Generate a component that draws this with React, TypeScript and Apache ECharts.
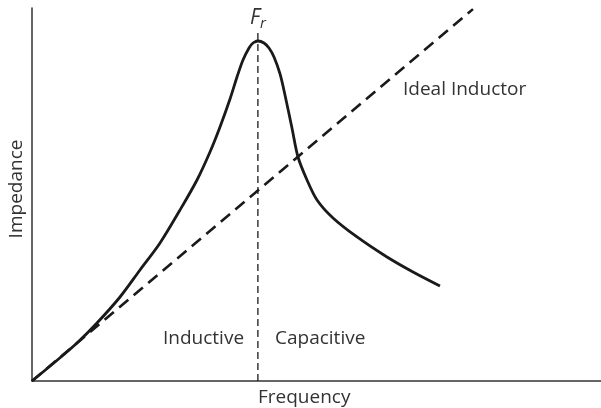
import React, { useEffect, useRef } from "react";
import * as echarts from "echarts";

// Frequency (x) and impedance (y) on a 0–100 relative scale
const curveX = [0, 4.04, 7.91, 11.42, 15.47, 18.98, 22.5, 26.01, 29.0, 31.28, 33.04, 34.8, 36.03, 37.08, 38.14, 38.84, 39.72, 40.77, 41.65, 42.53, 43.59, 44.46, 45.69, 46.75, 48.33, 50.09, 52.9, 57.12, 62.39, 66.96, 71.7];
const curveY = [0, 5.09, 10.19, 15.55, 22.52, 29.76, 37.0, 45.84, 53.89, 61.39, 68.1, 75.6, 81.5, 86.06, 89.28, 90.62, 91.15, 90.62, 89.28, 86.86, 82.31, 76.68, 67.83, 60.05, 53.89, 48.53, 43.7, 38.61, 33.24, 29.22, 25.47];
const idealX = [0, 77.5];
const idealY = [0, 99.7];
const resonanceX = [39.7, 39.7];
const resonanceY = [0, 93.6];

const FONT = "'Open Sans', 'Noto Sans', sans-serif";
const TEXT_COLOR = "#333";
const SIZE = 19;

export default function App() {
  const ref = useRef<HTMLDivElement>(null);
  useEffect(() => {
    if (!ref.current) return;
    const chart = echarts.init(ref.current, null, { renderer: "svg" });
    const zip = (xs: number[], ys: number[]) => xs.map((x, i) => [x, ys[i]]);
    chart.setOption({
      animation: false,
      grid: { left: 32, right: 0, top: 8, bottom: 27 },
      xAxis: {
        type: "value",
        min: 0,
        max: 100,
        axisLine: { show: true, lineStyle: { color: "#333", width: 1.5 } },
        axisTick: { show: false },
        axisLabel: { show: false },
        splitLine: { show: false },
      },
      yAxis: {
        type: "value",
        min: 0,
        max: 100,
        axisLine: { show: true, lineStyle: { color: "#333", width: 1.5 } },
        axisTick: { show: false },
        axisLabel: { show: false },
        splitLine: { show: false },
      },
      series: [
        {
          type: "line",
          data: zip(curveX, curveY),
          smooth: 0.3,
          showSymbol: false,
          lineStyle: { color: "#1a1a1a", width: 2.8 },
        },
        {
          type: "line",
          data: zip(idealX, idealY),
          showSymbol: false,
          lineStyle: { color: "#1a1a1a", width: 2.6, type: [12, 7] },
        },
        {
          type: "line",
          data: zip(resonanceX, resonanceY),
          showSymbol: false,
          lineStyle: { color: "#1a1a1a", width: 1.3, type: [7, 4] },
        },
      ],
      graphic: [
        {
          type: "text",
          x: 258,
          y: 16,
          style: {
            text: "{f|F}{s|r}",
            align: "center",
            verticalAlign: "middle",
            rich: {
              f: { fontFamily: FONT, fontStyle: "italic", fontSize: 21, fill: TEXT_COLOR },
              s: { fontFamily: FONT, fontStyle: "italic", fontSize: 15, fill: TEXT_COLOR, padding: [12, 0, 0, 0] },
            },
          },
        },
        {
          type: "text",
          x: 403,
          y: 88,
          style: { text: "Ideal Inductor", font: `${SIZE}px ${FONT}`, fill: TEXT_COLOR, verticalAlign: "middle" },
        },
        {
          type: "text",
          x: 163,
          y: 337,
          style: { text: "Inductive", font: `${SIZE}px ${FONT}`, fill: TEXT_COLOR, verticalAlign: "middle" },
        },
        {
          type: "text",
          x: 275,
          y: 337,
          style: { text: "Capacitive", font: `${SIZE}px ${FONT}`, fill: TEXT_COLOR, verticalAlign: "middle" },
        },
        {
          type: "text",
          x: 258,
          y: 396,
          style: { text: "Frequency", font: `${SIZE}px ${FONT}`, fill: TEXT_COLOR, verticalAlign: "middle" },
        },
        {
          type: "text",
          x: 15,
          y: 189,
          rotation: Math.PI / 2,
          style: { text: "Impedance", font: `${SIZE}px ${FONT}`, fill: TEXT_COLOR, align: "center", verticalAlign: "middle" },
        },
      ],
    });
    return () => chart.dispose();
  }, []);
  return <div ref={ref} style={{ position: "fixed", left: 0, top: 0, width: 601, height: 408 }} />;
}
